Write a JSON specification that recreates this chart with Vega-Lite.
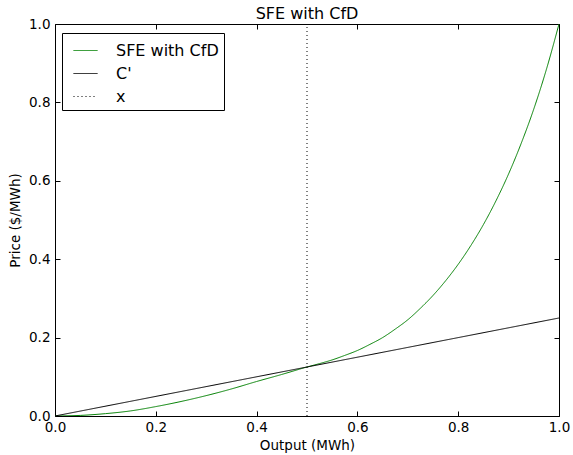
{
  "$schema": "https://vega.github.io/schema/vega-lite/v6.json",
  "width": 504,
  "height": 392,
  "autosize": "none",
  "padding": {"left": 55, "top": 24, "right": 14, "bottom": 39},
  "background": "white",
  "title": {"text": "SFE with CfD", "fontSize": 16, "font": "DejaVu Sans", "fontWeight": "normal", "color": "black", "offset": -5},
  "config": {
    "font": "DejaVu Sans",
    "view": {"stroke": "black", "strokeWidth": 1},
    "axis": {
      "grid": false, "domain": false, "tickColor": "black", "tickSize": -5, "tickWidth": 1, "labelFlush": false, "labelOverlap": false,
      "labelFont": "DejaVu Sans", "labelFontSize": 13.5, "labelColor": "black",
      "titleFont": "DejaVu Sans", "titleFontSize": 13.5, "titleFontWeight": "normal", "titleColor": "black"
    }
  },
  "data": {"values": [
    {"series": "SFE with CfD", "x": 0, "y": 0},
    {"series": "SFE with CfD", "x": 0.05, "y": 0.0015},
    {"series": "SFE with CfD", "x": 0.1, "y": 0.006},
    {"series": "SFE with CfD", "x": 0.15, "y": 0.013},
    {"series": "SFE with CfD", "x": 0.2, "y": 0.024},
    {"series": "SFE with CfD", "x": 0.25, "y": 0.037},
    {"series": "SFE with CfD", "x": 0.3, "y": 0.052},
    {"series": "SFE with CfD", "x": 0.35, "y": 0.069},
    {"series": "SFE with CfD", "x": 0.4, "y": 0.088},
    {"series": "SFE with CfD", "x": 0.45, "y": 0.106},
    {"series": "SFE with CfD", "x": 0.5, "y": 0.125},
    {"series": "SFE with CfD", "x": 0.525, "y": 0.1337},
    {"series": "SFE with CfD", "x": 0.55, "y": 0.1431},
    {"series": "SFE with CfD", "x": 0.575, "y": 0.1546},
    {"series": "SFE with CfD", "x": 0.6, "y": 0.1671},
    {"series": "SFE with CfD", "x": 0.625, "y": 0.1828},
    {"series": "SFE with CfD", "x": 0.65, "y": 0.2},
    {"series": "SFE with CfD", "x": 0.675, "y": 0.2216},
    {"series": "SFE with CfD", "x": 0.7, "y": 0.2455},
    {"series": "SFE with CfD", "x": 0.725, "y": 0.2748},
    {"series": "SFE with CfD", "x": 0.75, "y": 0.3075},
    {"series": "SFE with CfD", "x": 0.775, "y": 0.3449},
    {"series": "SFE with CfD", "x": 0.8, "y": 0.387},
    {"series": "SFE with CfD", "x": 0.825, "y": 0.4347},
    {"series": "SFE with CfD", "x": 0.85, "y": 0.4883},
    {"series": "SFE with CfD", "x": 0.875, "y": 0.5491},
    {"series": "SFE with CfD", "x": 0.9, "y": 0.6176},
    {"series": "SFE with CfD", "x": 0.925, "y": 0.6955},
    {"series": "SFE with CfD", "x": 0.95, "y": 0.7832},
    {"series": "SFE with CfD", "x": 0.975, "y": 0.8842},
    {"series": "SFE with CfD", "x": 1.0, "y": 1.0},
    {"series": "C'", "x": 0, "y": 0},
    {"series": "C'", "x": 1, "y": 0.25},
    {"series": "x", "x": 0.5, "y": 0},
    {"series": "x", "x": 0.5, "y": 1}
  ]},
  "layer": [
    {
      "mark": {"type": "line", "strokeWidth": 1, "interpolate": "monotone", "clip": true},
      "encoding": {
        "x": {"field": "x", "type": "quantitative", "scale": {"domain": [0, 1], "nice": false, "zero": false},
              "axis": {"title": "Output (MWh)", "format": ".1f", "values": [0, 0.2, 0.4, 0.6, 0.8, 1.0], "labelPadding": 9, "titlePadding": 5}},
        "y": {"field": "y", "type": "quantitative", "scale": {"domain": [0, 1], "nice": false, "zero": false},
              "axis": {"title": "Price ($/MWh)", "format": ".1f", "values": [0, 0.2, 0.4, 0.6, 0.8, 1.0], "labelPadding": 10, "titlePadding": 6}},
        "color": {"field": "series", "type": "nominal",
          "scale": {"domain": ["SFE with CfD", "C'", "x"], "range": ["#008000", "black", "black"]},
          "legend": {"title": null, "orient": "none", "legendX": 7, "legendY": 9,
            "symbolType": "stroke", "symbolSize": 576, "symbolStrokeWidth": 1, "symbolOffset": 6,
            "labelFontSize": 16, "labelFont": "DejaVu Sans", "labelColor": "black", "labelOffset": 18,
            "strokeColor": "black", "fillColor": "white", "padding": 5, "rowPadding": 2, "labelLimit": 300}},
        "strokeDash": {"field": "series", "type": "nominal",
          "scale": {"domain": ["SFE with CfD", "C'", "x"], "range": [[1, 0], [1, 0], [1, 3]]},
          "legend": {"title": null, "orient": "none", "legendX": 7, "legendY": 9,
            "symbolType": "stroke", "symbolSize": 576, "symbolStrokeWidth": 1, "symbolOffset": 6,
            "labelFontSize": 16, "labelFont": "DejaVu Sans", "labelColor": "black", "labelOffset": 18,
            "strokeColor": "black", "fillColor": "white", "padding": 5, "rowPadding": 2, "labelLimit": 300}}
      }
    },
    {
      "mark": {"type": "point", "opacity": 0},
      "encoding": {
        "x": {"field": "x", "type": "quantitative", "axis": {"orient": "top", "labels": false, "title": null, "values": [0, 0.2, 0.4, 0.6, 0.8, 1.0]}},
        "y": {"field": "y", "type": "quantitative", "axis": {"orient": "right", "labels": false, "title": null, "values": [0, 0.2, 0.4, 0.6, 0.8, 1.0]}}
      }
    }
  ],
  "resolve": {"axis": {"x": "independent", "y": "independent"}}
}
